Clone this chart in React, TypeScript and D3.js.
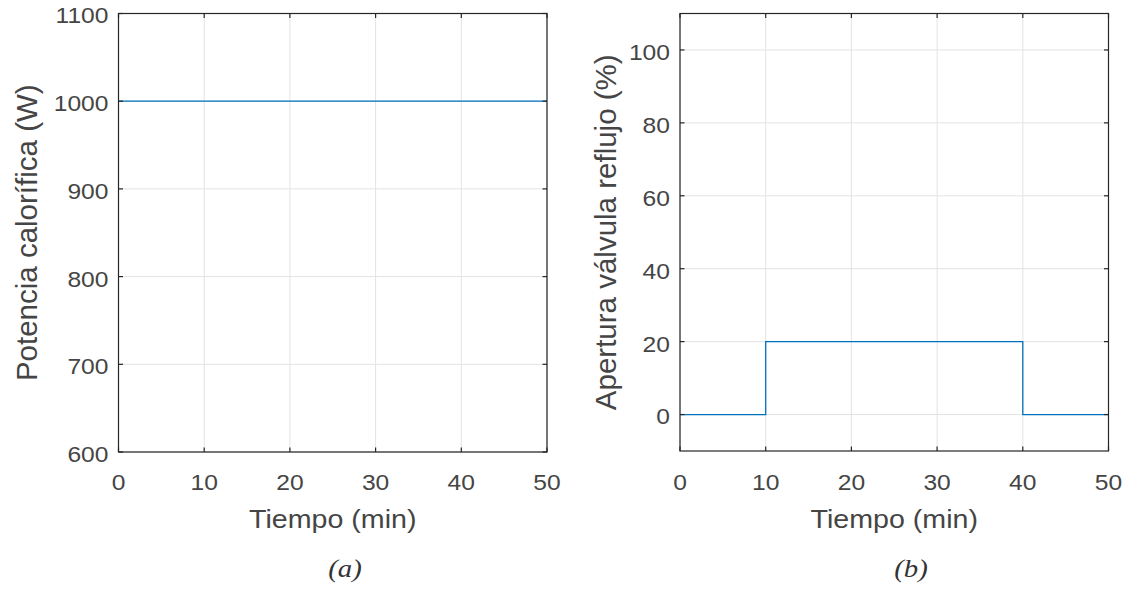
import React, { useEffect, useRef } from 'react';
import * as d3 from 'd3';

// panel (a): heat input, constant
const heatTime = [0, 50];
const heatPower = [1000, 1000];
const powerTicks = [600, 700, 800, 900, 1000, 1100];

// panel (b): reflux valve opening, step changes
const valveTime = [0, 10, 40, 50];
const valveOpen = [0, 20, 0, 0];
const valveTicks = [0, 20, 40, 60, 80, 100];

const timeTicks = [0, 10, 20, 30, 40, 50];

const W = 1124;
const H = 596;
const TEXT = '#454545';
const LINE = '#0072BD';

function drawPanel(svg, opt) {
  const x = d3.scaleLinear().domain([0, 50]).range([opt.left, opt.right]);
  const y = d3.scaleLinear().domain(opt.yDomain).range([opt.bottom, opt.top]);
  const g = svg.append('g');

  // grid
  g.selectAll('line.gx').data(timeTicks).enter().append('line')
    .attr('x1', d => x(d)).attr('x2', d => x(d))
    .attr('y1', opt.top).attr('y2', opt.bottom)
    .attr('stroke', '#e3e3e3').attr('stroke-width', 1);
  g.selectAll('line.gy').data(opt.yTicks).enter().append('line')
    .attr('x1', opt.left).attr('x2', opt.right)
    .attr('y1', d => y(d)).attr('y2', d => y(d))
    .attr('stroke', '#e3e3e3').attr('stroke-width', 1);

  // data line
  const line = d3.line()
    .x(d => x(d[0]))
    .y(d => y(d[1]))
    .curve(opt.step ? d3.curveStepAfter : d3.curveLinear);
  g.append('path')
    .datum(opt.xs.map((t, i) => [t, opt.ys[i]]))
    .attr('d', line)
    .attr('fill', 'none')
    .attr('stroke', LINE)
    .attr('stroke-width', 1.3);

  // box + ticks
  g.append('rect')
    .attr('x', opt.left).attr('y', opt.top)
    .attr('width', opt.right - opt.left).attr('height', opt.bottom - opt.top)
    .attr('fill', 'none').attr('stroke', '#262626').attr('stroke-width', 1.2);
  const tl = 4.5;
  timeTicks.forEach(t => {
    g.append('line').attr('x1', x(t)).attr('x2', x(t)).attr('y1', opt.bottom).attr('y2', opt.bottom - tl)
      .attr('stroke', '#262626').attr('stroke-width', 1.2);
    g.append('line').attr('x1', x(t)).attr('x2', x(t)).attr('y1', opt.top).attr('y2', opt.top + tl)
      .attr('stroke', '#262626').attr('stroke-width', 1.2);
  });
  opt.yTicks.forEach(v => {
    g.append('line').attr('x1', opt.left).attr('x2', opt.left + tl).attr('y1', y(v)).attr('y2', y(v))
      .attr('stroke', '#262626').attr('stroke-width', 1.2);
    g.append('line').attr('x1', opt.right).attr('x2', opt.right - tl).attr('y1', y(v)).attr('y2', y(v))
      .attr('stroke', '#262626').attr('stroke-width', 1.2);
  });

  const font = '"Liberation Sans", Arial, sans-serif';

  // tick labels
  g.selectAll('text.tx').data(timeTicks).enter().append('text')
    .attr('transform', d => `translate(${x(d)},490) scale(1.12,1)`)
    .attr('text-anchor', 'middle')
    .attr('font-family', font).attr('font-size', 22).attr('fill', TEXT)
    .text(d => d);
  g.selectAll('text.ty').data(opt.yTicks).enter().append('text')
    .attr('transform', d => `translate(${opt.left - 10},${y(d)}) scale(1.12,1)`)
    .attr('dy', '0.45em')
    .attr('text-anchor', 'end')
    .attr('font-family', font).attr('font-size', 22).attr('fill', TEXT)
    .text(d => d);

  // axis labels
  const cx = (opt.left + opt.right) / 2;
  g.append('text')
    .attr('transform', `translate(${cx},528) scale(1.1,1)`)
    .attr('text-anchor', 'middle')
    .attr('font-family', font).attr('font-size', 26).attr('fill', TEXT)
    .text('Tiempo (min)');
  g.append('text')
    .attr('transform', `translate(${opt.ylabelX},${(opt.top + opt.bottom) / 2}) rotate(-90)`)
    .attr('text-anchor', 'middle')
    .attr('font-family', font).attr('font-size', 29.5).attr('fill', TEXT)
    .text(opt.ylabel);

  // panel tag
  g.append('text')
    .attr('transform', `translate(${opt.tagX},577) scale(1.15,1)`)
    .attr('text-anchor', 'middle')
    .attr('font-family', '"Liberation Serif", "Times New Roman", serif')
    .attr('font-style', 'italic')
    .attr('font-size', 25).attr('fill', '#333')
    .text(opt.tag);
}

export default function App() {
  const ref = useRef(null);

  useEffect(() => {
    const svg = d3.select(ref.current);
    svg.selectAll('*').remove();

    drawPanel(svg, {
      left: 118.5, right: 547, top: 13.5, bottom: 452,
      yDomain: [600, 1100], yTicks: powerTicks,
      xs: heatTime, ys: heatPower, step: false,
      ylabel: 'Potencia calorífica (W)', ylabelX: 37,
      tag: '(a)', tagX: 345,
    });
    drawPanel(svg, {
      left: 680, right: 1108.5, top: 13.5, bottom: 451,
      yDomain: [-10, 110], yTicks: valveTicks,
      xs: valveTime, ys: valveOpen, step: true,
      ylabel: 'Apertura válvula reflujo (%)', ylabelX: 616,
      tag: '(b)', tagX: 911,
    });
  }, []);

  return (
    <svg
      ref={ref}
      width={W}
      height={H}
      style={{ position: 'absolute', left: 0, top: 0, background: '#fff' }}
    />
  );
}
